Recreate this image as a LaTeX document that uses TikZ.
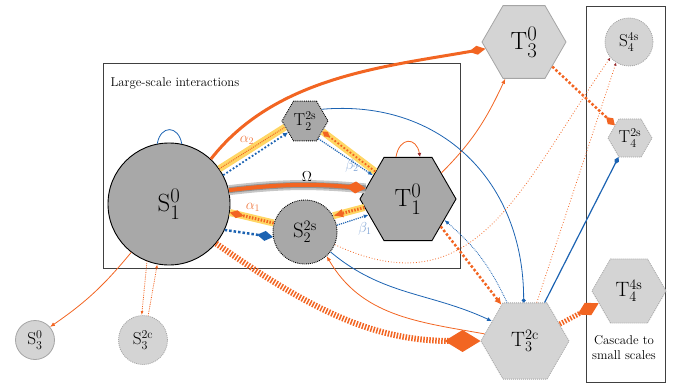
\documentclass[tikz,border=0pt]{standalone}
\usepackage{amsmath}
\usetikzlibrary{shapes.geometric, arrows.meta}
\definecolor{FlowOrange}{RGB}{242,101,34}
\definecolor{FlowBlue}{RGB}{28,99,178}
\definecolor{AlphaOrange}{RGB}{240,125,70}
\definecolor{BetaBlue}{RGB}{125,162,212}
\definecolor{BandYellow}{RGB}{255,214,100}
\definecolor{DarkGrey}{RGB}{168,168,168}
\definecolor{LightGrey}{RGB}{212,212,212}
\definecolor{BorderGrey}{RGB}{165,165,165}
\definecolor{TipRed}{RGB}{150,45,50}

\begin{document}
\begin{tikzpicture}[x=1pt, y=1pt,
        scircle/.style={circle, draw, line width=0.9pt, fill=DarkGrey, inner sep=0pt, minimum size=#1},
        shex/.style={regular polygon, regular polygon sides=6, draw, line width=0.9pt, fill=DarkGrey, inner sep=0pt, minimum size=#1},
        fcircle/.style={circle, draw=BorderGrey, line width=0.8pt, fill=LightGrey, inner sep=0pt, minimum size=#1},
        fhex/.style={regular polygon, regular polygon sides=6, draw=BorderGrey, line width=0.8pt, fill=LightGrey, inner sep=0pt, minimum size=#1},
        subgrid/.style={dash pattern=on 1pt off 1pt},
        band/.style={BandYellow, line width=7pt},
        thinflow/.style={line width=0.8pt},
        stripes/.style={dash pattern=on 1.5pt off 1.5pt},
        coef/.style={font=\Large},
        boxtext/.style={font=\fontsize{12.8}{15}\selectfont, align=center}
    ]
        \useasboundingbox (0,0) rectangle (679,-390);
        % Frames
        \draw[line width=1pt, black!75] (103,-64) rectangle (460,-268);
        \draw[line width=1pt, black!75] (586,-7) rectangle (665,-382);
        \node[boxtext, anchor=west] (lsi) at (107,-83) {Large-scale interactions};
        \node[boxtext] (css) at (624,-348) {Cascade to\\small scales};
        % Large-scale nodes
        \node[scircle=122pt, font=\Huge] (S10) at (169,-204) {$\mathrm{S}_1^0$};
        \node[shex=96pt, font=\Huge] (T10) at (408,-199) {$\mathrm{T}_1^0$};
        \node[scircle=64pt, densely dotted, font=\huge] (S22s) at (305,-232) {$\mathrm{S}_2^{\mathrm{2s}}$};
        \node[shex=46pt, densely dotted, font=\LARGE] (T22s) at (305,-121) {$\mathrm{T}_2^{\mathrm{2s}}$};
        % Outer and small-scale nodes
        \node[fhex=84pt, font=\Huge] (T30) at (524,-42) {$\mathrm{T}_3^0$};
        \node[fhex=88pt, subgrid, font=\huge] (T32c) at (525,-341) {$\mathrm{T}_3^{\mathrm{2c}}$};
        \node[fcircle=39pt, font=\LARGE] (S30) at (35,-340) {$\mathrm{S}_3^0$};
        \node[fcircle=49pt, subgrid, font=\LARGE] (S32c) at (143,-340) {$\mathrm{S}_3^{\mathrm{2c}}$};
        \node[fcircle=48pt, subgrid, font=\LARGE] (S44s) at (629,-42) {$\mathrm{S}_4^{\mathrm{4s}}$};
        \node[fhex=44pt, subgrid, font=\LARGE] (T42s) at (630,-138) {$\mathrm{T}_4^{\mathrm{2s}}$};
        \node[fhex=74pt, subgrid, font=\huge] (T44s) at (629,-291) {$\mathrm{T}_4^{\mathrm{4s}}$};
        % Self loops
        \draw[FlowBlue, thinflow] (S10.101) to[out=80, in=100, looseness=2] (S10.78);
        \draw[FlowOrange, thinflow, -{Latex[length=4pt, width=4pt, color=TipRed]}] (T10.106) to[out=80, in=100, looseness=2.2] (T10.74);
        % Omega
        \draw[gray!45, line width=10pt] (S10.13) to[bend left=6] (T10.166);
        \draw[gray!85, line width=6pt] (S10.13) to[bend left=6] (T10.166);
        \draw[FlowOrange, line width=4pt, -{Diamond[length=20pt, width=12pt]}] (S10.13) to[bend left=6] (T10.166);
        \node[coef] (om) at (307,-177) {$\Omega$};
        % alpha_2 and beta_2
        \draw[band] (S10.35) -- (T22s.197);
        \draw[FlowOrange, densely dotted, line width=1pt] (S10.35) -- (T22s.197);
        \draw[FlowBlue, dotted, line width=1.8pt, -{Latex[length=5pt, width=5pt]}] (S10.28) -- (T22s.214);
        \node[coef, text=AlphaOrange] (a2) at (247,-140) {$\alpha_2$};
        \draw[band] (T10.140) -- (T22s.329);
        \draw[FlowOrange, dotted, line width=1.8pt, -{Diamond[length=9pt, width=6pt]}] (T10.140) -- (T22s.329);
        \draw[FlowBlue, densely dotted, line width=1.2pt, -{Latex[length=5pt, width=4pt]}] (T22s.307) -- (T10.146);
        \node[coef, text=BetaBlue] (b2) at (352,-166) {$\beta_2$};
        % alpha_1 and beta_1
        \draw[band] (S22s.164) -- (S10.352);
        \draw[FlowOrange, line width=3pt, stripes, -{Diamond[length=14pt, width=8pt]}] (S22s.164) -- (S10.352);
        \node[coef, text=AlphaOrange] (a1) at (253,-207) {$\alpha_1$};
        \draw[band] (T10.191) -- (S22s.30);
        \draw[FlowOrange, line width=3pt, stripes, -{Latex[length=10pt, width=9pt]}] (T10.191) -- (S22s.30);
        \draw[FlowBlue, densely dotted, line width=1.2pt, -{Latex[length=5pt, width=4pt]}] (S22s.12) -- (T10.202);
        \node[coef, text=BetaBlue] (b1) at (365,-229) {$\beta_1$};
        \draw[FlowBlue, dotted, line width=2.5pt, -{Diamond[length=16pt, width=10pt]}] (S10.335) -- (S22s.189);
        % Links leaving the large scales
        \draw[FlowOrange, line width=3pt, -{Diamond[length=17pt, width=9pt]}] (S10.47) to[out=52, in=190, looseness=0.9] (T30.190);
        \draw[FlowOrange, line width=6pt, stripes, -{Diamond[length=36pt, width=22pt]}] (S10.320) to[out=-35, in=180] (T32c.west);
        \draw[FlowOrange, thinflow, -{Latex[length=5pt, width=4pt]}] (S10.232) to[bend left=8] (S30.41);
        \draw[FlowOrange, densely dotted, thinflow, -{Latex[length=4pt, width=3pt]}] (S10.249) -- (S32c.93);
        \draw[FlowOrange, densely dotted, thinflow, -{Latex[length=4pt, width=3pt]}] (S32c.78) -- (S10.259);
        \draw[FlowOrange, thinflow, -{Latex[length=5pt, width=4pt]}] (T10.38) to[out=45, in=245] (T30.243);
        \draw[FlowOrange, dotted, line width=2.5pt, -{Latex[length=7pt, width=7pt]}] (T10.320) -- (T32c.123);
        \draw[FlowBlue, densely dotted, thinflow, -{Latex[length=5pt, width=4pt]}] (T32c.115) to[bend right=12] (T10.330);
        \draw[FlowBlue, thinflow, -{Circle[length=4pt]}] (T22s.35) to[out=5, in=90, looseness=1.1] (T32c.92);
        \draw[FlowBlue, thinflow, -{Latex[length=5pt, width=4pt]}] (S22s.322) to[out=-40, in=155] (T32c.149);
        \draw[FlowOrange, thinflow, -{Latex[length=5pt, width=4pt]}] (T32c.170) to[out=170, in=-60] (S22s.312);
        \draw[FlowOrange, dotted, thinflow, -{Latex[length=3pt, width=3pt, color=TipRed]}] (S22s.337) to[out=-25, in=235, looseness=1.2] (S44s.220);
        % Cascade to small scales
        \draw[FlowOrange, dotted, thinflow, -{Latex[length=3pt, width=3pt, color=TipRed]}] (T32c.73) -- (S44s.238);
        \draw[FlowOrange, dotted, line width=2.5pt, -{Diamond[length=12pt, width=8pt]}] (T30.319) -- (T42s.140);
        \draw[FlowBlue, line width=1.2pt, -{Diamond[length=8pt, width=5pt]}] (T32c.63) -- (T42s.239);
        \draw[FlowOrange, line width=5pt, stripes, -{Diamond[length=24pt, width=14pt]}] (T32c.26) -- (T44s.202);
    \end{tikzpicture}
\end{document}
